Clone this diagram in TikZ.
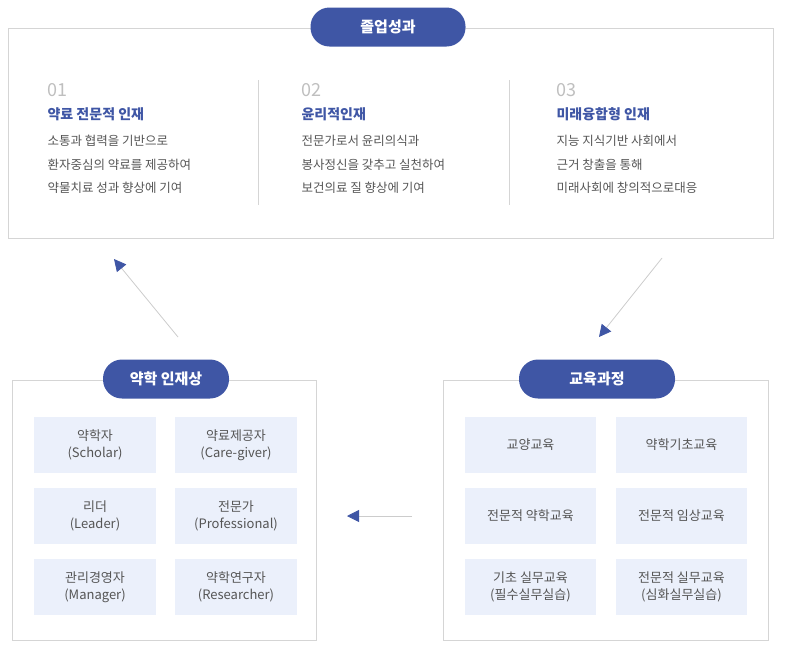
\documentclass[tikz,border=0pt]{standalone}
\usepackage{fontspec}
\setmainfont{Noto Sans CJK KR}
\usetikzlibrary{arrows.meta}
\definecolor{navy}{HTML}{3F56A5}
\definecolor{cellbg}{HTML}{EBF0FB}
\definecolor{txt}{HTML}{555555}
\definecolor{frame}{HTML}{D5D5D5}
\tikzset{
  pill/.style={fill=navy,text=white,rounded corners=19pt,minimum height=39pt,font=\fontsize{15}{15}\selectfont\bfseries},
  frm/.style={draw=frame,line width=0.8pt},
  cell/.style={fill=cellbg,minimum width=122pt,minimum height=56pt,align=center,text=txt,font=\fontsize{13}{17}\selectfont},
  num/.style={anchor=west,text=gray!50,font=\fontsize{18}{18}\selectfont},
  ttl/.style={anchor=west,text=navy,font=\fontsize{14}{14}\selectfont\bfseries},
  body/.style={anchor=north west,align=left,text=txt,font=\fontsize{12.5}{23.5}\selectfont},
  conn/.style={draw=gray!40,line width=0.8pt,-{Triangle[length=12pt,width=12pt,fill=navy,color=navy]}}
}
\begin{document}
\begin{tikzpicture}[x=1pt,y=-1pt]
\useasboundingbox (0,0) rectangle (787,651);
\draw[frm] (8,28) rectangle (773,238);
\node[pill,minimum width=155pt] (p1) at (388,27) {졸업성과};
\foreach \x in {258,509} \draw[frame] (\x,80) -- (\x,205);
\node[num] (n1) at (44,90) {01};
\node[ttl] (t1) at (44,114) {약료 전문적 인재};
\node[body] (b1) at (44,132) {소통과 협력을 기반으로\\환자중심의 약료를 제공하여\\약물치료 성과 향상에 기여};
\node[num] (n2) at (298,90) {02};
\node[ttl] (t2) at (298,114) {윤리적인재};
\node[body] (b2) at (298,132) {전문가로서 윤리의식과\\봉사정신을 갖추고 실천하여\\보건의료 질 향상에 기여};
\node[num] (n3) at (553,90) {03};
\node[ttl] (t3) at (553,114) {미래융합형 인재};
\node[body] (b3) at (553,132) {지능 지식기반 사회에서\\근거 창출을 통해\\미래사회에 창의적으로대응};
\draw[frm] (12,380) rectangle (316,640);
\draw[frm] (443,380) rectangle (768,640);
\node[pill,minimum width=126pt] (p2) at (166,379) {약학 인재상};
\node[pill,minimum width=156pt] (p3) at (597,379) {교육과정};
\node[cell] (l11) at (95,445) {약학자\\(Scholar)};
\node[cell] (l12) at (236,445) {약료제공자\\(Care-giver)};
\node[cell] (l21) at (95,516) {리더\\(Leader)};
\node[cell] (l22) at (236,516) {전문가\\(Professional)};
\node[cell] (l31) at (95,587) {관리경영자\\(Manager)};
\node[cell] (l32) at (236,587) {약학연구자\\(Researcher)};
\node[cell,minimum width=131pt] (r11) at (530.5,445) {교양교육};
\node[cell,minimum width=131pt] (r12) at (681.5,445) {약학기초교육};
\node[cell,minimum width=131pt] (r21) at (530.5,516) {전문적 약학교육};
\node[cell,minimum width=131pt] (r22) at (681.5,516) {전문적 임상교육};
\node[cell,minimum width=131pt] (r31) at (530.5,587) {기초 실무교육\\(필수실무실습)};
\node[cell,minimum width=131pt] (r32) at (681.5,587) {전문적 실무교육\\(심화실무실습)};
\coordinate (a1s) at (178,337); \coordinate (a1e) at (114,259);
\coordinate (a2s) at (662,258); \coordinate (a2e) at (599,337);
\coordinate (a3s) at (412,516); \coordinate (a3e) at (347,516);
\draw[conn] (a1s) -- (a1e);
\draw[conn] (a2s) -- (a2e);
\draw[conn] (a3s) -- (a3e);
\end{tikzpicture}
\end{document}
